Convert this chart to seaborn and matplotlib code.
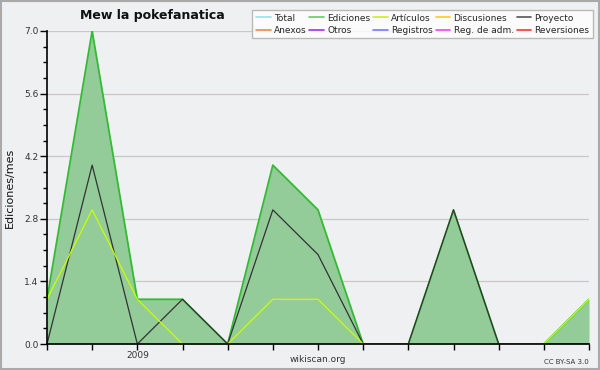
import matplotlib
matplotlib.use("Agg")
import matplotlib.pyplot as plt
import seaborn as sns
import pandas as pd
import numpy as np
from matplotlib.lines import Line2D
from matplotlib.ticker import MultipleLocator

# Data (months Nov 2008 .. Nov 2009)
months = ["2008-11", "2008-12", "2009-01", "2009-02", "2009-03", "2009-04", "2009-05",
          "2009-06", "2009-07", "2009-08", "2009-09", "2009-10", "2009-11"]
ediciones = [1, 7, 1, 1, 0, 4, 3, 0, 0, 3, 0, 0, 1]
articulos = [1, 3, 1, 0, 0, 1, 1, 0, 0, 0, 0, 0, 1]
proyecto = [0, 4, 0, 1, 0, 3, 2, 0, 0, 3, 0, 0, 0]
xtick_labels = ["", "", "2009", "", "", "", "", "", "", "", "", "", ""]

legend_labels = ["Total", "Anexos", "Ediciones", "Otros", "Artículos", "Registros",
                 "Discusiones", "Reg. de adm.", "Proyecto", "Reversiones"]
legend_colors = ["#88e8e8", "#f08848", "#66cc66", "#9933ee", "#ccee22", "#7777ff",
                 "#ffcc22", "#ee44ee", "#555555", "#ff3333"]

df = pd.DataFrame({"idx": np.arange(len(months)), "month": months,
                   "Ediciones": ediciones, "Artículos": articulos, "Proyecto": proyecto})

sns.set_style("white")
plt.rcParams["font.family"] = ["DejaVu Sans"]

bg = "#eff0f1"
fig = plt.figure(figsize=(6, 3.7), dpi=100, facecolor=bg)
ax = fig.add_axes([47/600, 1-344/370, (589-47)/600, (344-31)/370])
ax.set_facecolor(bg)

ax.fill_between(df["idx"], 0, df["Ediciones"], color="#93cb99", linewidth=0, zorder=2)
sns.lineplot(data=df, x="idx", y="Ediciones", ax=ax, color="#33bb33", linewidth=1.3, zorder=3)
sns.lineplot(data=df, x="idx", y="Proyecto", ax=ax, color="#333333", linewidth=0.9, zorder=4)
sns.lineplot(data=df, x="idx", y="Artículos", ax=ax, color="#ccff00", linewidth=0.9, zorder=5)

ax.set_xlim(0, len(months)-1)
ax.set_ylim(0, 7)
ax.set_yticks([0, 1.4, 2.8, 4.2, 5.6, 7.0])
ax.set_yticklabels(["0.0", "1.4", "2.8", "4.2", "5.6", "7.0"], fontsize=6.5, color="#333333")
ax.yaxis.set_minor_locator(MultipleLocator(0.35))
ax.set_xticks(df["idx"])
ax.set_xticklabels(xtick_labels, fontsize=6.5, color="#333333")
ax.tick_params(axis="y", which="major", length=5, width=1, color="black", direction="out", pad=1, left=True)
ax.tick_params(axis="y", which="minor", length=3, width=1, color="black", direction="out", left=True)
ax.tick_params(axis="x", which="major", length=4, width=1, color="black", direction="out", pad=1, bottom=True)
ax.grid(axis="y", color="#c8c8c8", linewidth=0.9, zorder=1)
ax.set_axisbelow(True)
for s in ["top", "right"]:
    ax.spines[s].set_visible(False)
for s in ["left", "bottom"]:
    ax.spines[s].set_color("black")
    ax.spines[s].set_linewidth(1.2)
    ax.spines[s].set_zorder(6)
ax.set_xlabel("")
ax.set_ylabel("Ediciones/mes", fontsize=8, color="#111111")
ax.yaxis.set_label_coords(-32/542, 0.5)

handles = [Line2D([0], [0], color=c, linewidth=1.2) for c in legend_colors]
leg = fig.legend(handles, legend_labels, ncol=5, loc="upper right",
                 bbox_to_anchor=(593/600, 1-10/370), fontsize=6.5, frameon=True,
                 fancybox=False, handlelength=1.6, handletextpad=0.35, columnspacing=0.35,
                 labelspacing=0.35, borderpad=0.4, borderaxespad=0)
leg.get_frame().set_edgecolor("#aaaaaa")
leg.get_frame().set_facecolor("white")
leg.get_frame().set_linewidth(1)

fig.text(152/600, 1-15/370, "Mew la pokefanatica", fontsize=9, fontweight="bold",
         ha="center", va="center", color="#111111")
fig.text(318/600, 1-360/370, "wikiscan.org", fontsize=6.5, ha="center", va="center", color="#333333")
fig.text(589/600, 1-362/370, "CC BY-SA 3.0", fontsize=5, ha="right", va="center", color="#333333")

border = plt.Rectangle((0.5/600, 1.5/370), 1-1.5/600, 1-2/370, transform=fig.transFigure,
                       fill=False, edgecolor="#aaaaaa", linewidth=1.5)
fig.patches.append(border)

fig.savefig("out.png", dpi=100, facecolor=bg)
